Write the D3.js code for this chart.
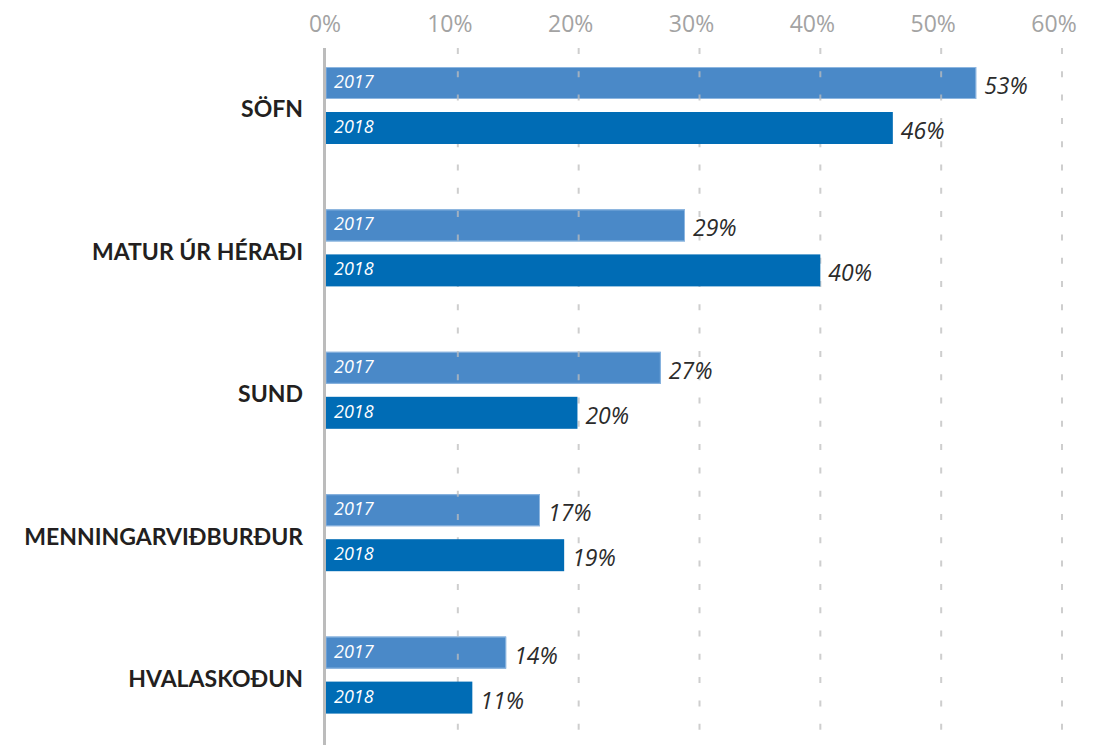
<!DOCTYPE html>
<html>
<head>
<meta charset="utf-8">
<script src="https://cdn.jsdelivr.net/npm/d3@7"></script>
<style>
  html, body { margin: 0; padding: 0; background: #fff; }
  svg { display: block; }
</style>
</head>
<body>
<svg id="chart" width="1097" height="745"></svg>
<script>
const categories = ["SÖFN", "MATUR ÚR HÉRAÐI", "SUND", "MENNINGARVIÐBURÐUR", "HVALASKOÐUN"];
const years = ["2017", "2018"];
const values2017 = [52.9, 28.8, 26.8, 16.8, 14.0];
const values2018 = [46.0, 40.0, 19.9, 18.8, 11.2];
const labels2017 = ["53%", "29%", "27%", "17%", "14%"];
const labels2018 = ["46%", "40%", "20%", "19%", "11%"];
const tickValues = [0, 10, 20, 30, 40, 50, 60];
const tickLabels = ["0%", "10%", "20%", "30%", "40%", "50%", "60%"];

const colors = { "2017": "#4a89c8", "2018": "#006cb5" };

const W = 1097, H = 745;
const svg = d3.select("#chart");

const x = d3.scaleLinear().domain([0, 60]).range([337, 1062]);
const axisX = 324.5;
const barStart = 326;
const gridTop = 48;

const y = d3.scaleBand().domain(categories).range([34.3, 746.3]).padding(0);
const yInner = d3.scaleBand().domain(years).range([32.7, 109.7]).paddingInner(13 / 45).paddingOuter(0);

const rows = categories.map((c, i) => ({
  cat: c,
  bars: [
    { year: "2017", v: values2017[i], label: labels2017[i] },
    { year: "2018", v: values2018[i], label: labels2018[i] }
  ]
}));

// tick labels
svg.append("g").selectAll("text")
  .data(tickValues)
  .join("text")
  .attr("x", (d, i) => x(d) - (i === 0 ? 12 : 8))
  .attr("y", 32)
  .attr("text-anchor", "middle")
  .attr("font-family", "'Open Sans', sans-serif")
  .attr("font-size", 23)
  .attr("fill", "#a3a3a3")
  .text((d, i) => tickLabels[i]);

// 2017 bars (below grid)
const groups = svg.append("g").selectAll("g")
  .data(rows)
  .join("g")
  .attr("transform", d => `translate(0,${y(d.cat)})`);

groups.append("rect")
  .attr("x", barStart)
  .attr("y", yInner("2017"))
  .attr("width", d => x(d.bars[0].v) - barStart)
  .attr("height", yInner.bandwidth())
  .attr("fill", colors["2017"]);
groups.append("rect")
  .attr("x", barStart)
  .attr("y", yInner("2017") + 0.5)
  .attr("width", d => x(d.bars[0].v) - barStart - 0.5)
  .attr("height", yInner.bandwidth() - 1)
  .attr("fill", "none")
  .attr("stroke", "#8db6e0")
  .attr("stroke-width", 1);

// gridlines
svg.append("g").selectAll("line")
  .data(tickValues.filter(d => d > 0))
  .join("line")
  .attr("x1", d => x(d)).attr("x2", d => x(d))
  .attr("y1", gridTop).attr("y2", H)
  .attr("stroke", "#bdbdbd")
  .attr("stroke-opacity", 0.75)
  .attr("stroke-width", 2)
  .attr("stroke-dasharray", "6,17.3");

// 2018 bars (above grid)
const groups2 = svg.append("g").selectAll("g")
  .data(rows)
  .join("g")
  .attr("transform", d => `translate(0,${y(d.cat)})`);

groups2.append("rect")
  .attr("x", barStart)
  .attr("y", yInner("2018"))
  .attr("width", d => x(d.bars[1].v) - barStart)
  .attr("height", yInner.bandwidth())
  .attr("fill", colors["2018"]);

// year labels & value labels
const labelLayer = svg.append("g").selectAll("g")
  .data(rows)
  .join("g")
  .attr("transform", d => `translate(0,${y(d.cat)})`);

labelLayer.each(function(d) {
  const g = d3.select(this);
  d.bars.forEach(b => {
    g.append("text")
      .attr("x", barStart + 8)
      .attr("y", yInner(b.year) + 21)
      .attr("font-family", "'Open Sans', sans-serif")
      .attr("font-style", "italic")
      .attr("font-size", 18)
      .attr("fill", "#ffffff")
      .text(b.year);
    g.append("text")
      .attr("x", x(b.v) + 8)
      .attr("y", yInner(b.year) + 27)
      .attr("font-family", "'Open Sans', sans-serif")
      .attr("font-style", "italic")
      .attr("font-size", 23)
      .attr("fill", "#2b2b2b")
      .text(b.label);
  });
  g.append("text")
    .attr("x", 303)
    .attr("y", y.bandwidth() / 2 + 12)
    .attr("text-anchor", "end")
    .attr("font-family", "Lato, sans-serif")
    .attr("font-weight", "bold")
    .attr("font-size", 23)
    .attr("fill", "#231f20")
    .text(d.cat);
});

// vertical axis line
svg.append("line")
  .attr("x1", axisX).attr("x2", axisX)
  .attr("y1", gridTop).attr("y2", H)
  .attr("stroke", "#bcbcbc")
  .attr("stroke-width", 3);
</script>
</body>
</html>
